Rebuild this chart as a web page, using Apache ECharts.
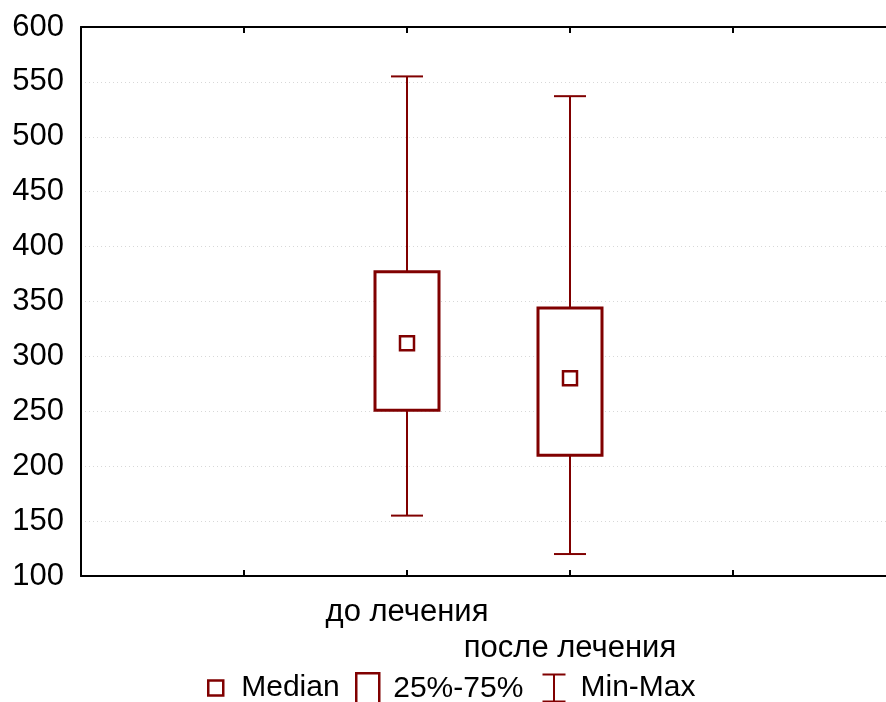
<!DOCTYPE html>
<html><head><meta charset="utf-8">
<script src="https://cdn.jsdelivr.net/npm/echarts@6/dist/echarts.min.js"></script>
<style>html,body{margin:0;padding:0;background:#fff}#c{width:886px;height:702px}</style>
</head><body><div id="c"></div>
<script>
const categories = ['до лечения', 'после лечения'];
const positions = [2, 3];
const minVals = [155, 120];
const q1Vals = [251, 210];
const medianVals = [312, 280];
const q3Vals = [377, 344];
const maxVals = [555, 537];
const yTicks = [100, 600, 50];

const C = '#800000';
const FONT = 'Liberation Sans, Arial, sans-serif';
const rows = positions.map((p, i) => [p, minVals[i], q1Vals[i], medianVals[i], q3Vals[i], maxVals[i]]);

const chart = echarts.init(document.getElementById('c'));
chart.setOption({
  animation: false,
  backgroundColor: '#fff',
  grid: {left: 81, top: 27, right: -10, bottom: 126, outerBoundsMode: 'none', containLabel: false},
  xAxis: [{
    type: 'value', min: 0, max: 5, interval: 1, position: 'bottom',
    axisLine: {show: true, lineStyle: {color: '#000', width: 2}},
    axisTick: {show: true, inside: true, length: 6, lineStyle: {color: '#000', width: 2}},
    splitLine: {show: false},
    axisLabel: {
      margin: 18, fontSize: 31, fontFamily: FONT, color: '#000', lineHeight: 36,
      formatter: v => { const i = positions.indexOf(v); if (i < 0) return ''; return (i % 2 ? '\n' : '') + categories[i]; }
    }
  }, {
    type: 'value', min: 0, max: 5, interval: 1, position: 'top',
    axisLine: {show: true, lineStyle: {color: '#000', width: 2}},
    axisTick: {show: true, inside: true, length: 6, lineStyle: {color: '#000', width: 2}},
    splitLine: {show: false}, axisLabel: {show: false}
  }],
  yAxis: {
    type: 'value', min: yTicks[0], max: yTicks[1], interval: yTicks[2],
    axisLine: {show: true, lineStyle: {color: '#000', width: 2}},
    axisTick: {show: false},
    splitLine: {show: true, lineStyle: {color: '#d8d8d8', type: [1, 3], width: 1}},
    axisLabel: {margin: 17, fontSize: 31, fontFamily: FONT, color: '#000'}
  },
  legend: [
    {data: [{name: 'Median', icon: 'rect'}], left: 207, top: 673, itemWidth: 15, itemHeight: 15, padding: 0,
     itemStyle: {color: '#fff', borderColor: C, borderWidth: 2.5}, selectedMode: false,
     textStyle: {fontSize: 30, lineHeight: 28, fontFamily: FONT, color: '#000', padding: [0, 0, 0, 13]}},
    {data: [{name: '25%-75%', icon: 'rect'}], left: 355, top: 672, itemWidth: 23, itemHeight: 31, padding: 0,
     itemStyle: {color: '#fff', borderColor: C, borderWidth: 2.5}, selectedMode: false,
     textStyle: {fontSize: 30, lineHeight: 28, fontFamily: FONT, color: '#000', padding: [0, 0, 0, 9]}},
    {data: [{name: 'Min-Max', icon: 'path://M0,0L23,0M11.5,0L11.5,27M0,27L23,27'}], left: 540, top: 672, itemWidth: 23, itemHeight: 28, padding: 0,
     itemStyle: {color: 'none', borderColor: C, borderWidth: 2}, selectedMode: false,
     textStyle: {fontSize: 30, lineHeight: 28, fontFamily: FONT, color: '#000', padding: [0, 0, 0, 10]}}
  ],
  series: [
    {
      name: 'Min-Max', type: 'custom', data: rows, color: C,
      encode: {x: 0, y: [1, 5]},
      renderItem: (params, api) => {
        const x = api.value(0);
        const pMin = api.coord([x, api.value(1)]);
        const pQ1 = api.coord([x, api.value(2)]);
        const pQ3 = api.coord([x, api.value(4)]);
        const pMax = api.coord([x, api.value(5)]);
        const st = {stroke: C, lineWidth: 2, fill: null};
        const hw = 16;
        return {type: 'group', children: [
          {type: 'line', shape: {x1: pMax[0], y1: pMax[1], x2: pQ3[0], y2: pQ3[1]}, style: st},
          {type: 'line', shape: {x1: pQ1[0], y1: pQ1[1], x2: pMin[0], y2: pMin[1]}, style: st},
          {type: 'line', shape: {x1: pMax[0] - hw, y1: pMax[1], x2: pMax[0] + hw, y2: pMax[1]}, style: st},
          {type: 'line', shape: {x1: pMin[0] - hw, y1: pMin[1], x2: pMin[0] + hw, y2: pMin[1]}, style: st}
        ]};
      }
    },
    {
      name: '25%-75%', type: 'custom', data: rows, color: C,
      encode: {x: 0, y: [2, 4]},
      renderItem: (params, api) => {
        const x = api.value(0);
        const pQ1 = api.coord([x, api.value(2)]);
        const pQ3 = api.coord([x, api.value(4)]);
        const hw = 32;
        return {type: 'rect', shape: {x: pQ3[0] - hw, y: pQ3[1], width: hw * 2, height: pQ1[1] - pQ3[1]},
                style: {stroke: C, lineWidth: 3, fill: '#fff'}};
      }
    },
    {
      name: 'Median', type: 'custom', data: rows, color: C,
      encode: {x: 0, y: 3},
      renderItem: (params, api) => {
        const p = api.coord([api.value(0), api.value(3)]);
        const h = 7;
        return {type: 'rect', shape: {x: p[0] - h, y: p[1] - h, width: h * 2, height: h * 2},
                style: {stroke: C, lineWidth: 2.5, fill: '#fff'}};
      }
    }
  ]
});
</script></body></html>
